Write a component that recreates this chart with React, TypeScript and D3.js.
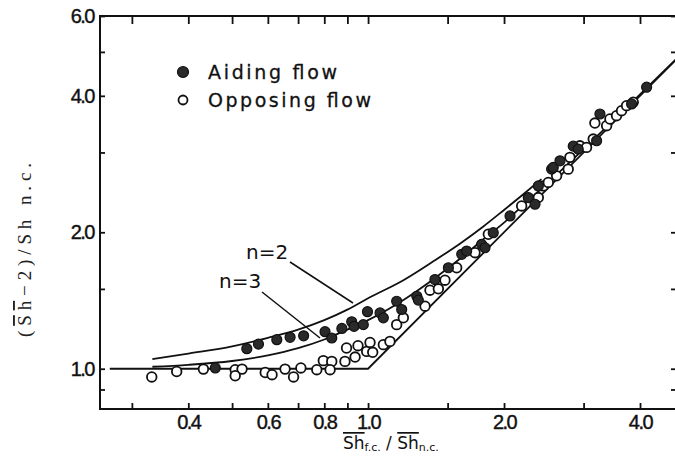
import React, { useEffect, useRef } from 'react';
import * as d3 from 'd3';

// axis ticks (log scales)
const xTicks = [0.3, 0.4, 0.5, 0.6, 0.7, 0.8, 0.9, 1.0, 1.5, 2.0, 3.0, 4.0];
const xLabels = ['0.4', '0.6', '0.8', '1.0', '2.0', '4.0'];
const yTicks = [0.9, 1.0, 1.5, 2.0, 3.0, 4.0, 5.0, 6.0];
const yLabels = ['1.0', '2.0', '4.0', '6.0'];

// aiding flow (filled)
const aidingX = [0.459, 0.539, 0.572, 0.628, 0.672, 0.72, 0.803, 0.831, 0.875, 0.92, 0.931, 0.976, 0.997, 1.063, 1.081, 1.157, 1.187, 1.282, 1.292, 1.406, 1.506, 1.612, 1.653, 1.784, 1.815, 1.893, 2.062, 2.263, 2.342, 2.382, 2.549, 2.57, 2.66, 2.846, 2.919, 3.206, 3.261, 3.832, 4.137];
const aidingY = [1.004, 1.107, 1.133, 1.159, 1.173, 1.182, 1.207, 1.169, 1.227, 1.269, 1.24, 1.251, 1.336, 1.328, 1.295, 1.409, 1.351, 1.445, 1.417, 1.573, 1.67, 1.788, 1.818, 1.881, 1.849, 1.996, 2.173, 2.386, 2.306, 2.531, 2.756, 2.78, 2.875, 3.098, 3.051, 3.184, 3.647, 3.838, 4.179];

// opposing flow (open)
const opposingX = [0.332, 0.377, 0.432, 0.508, 0.526, 0.508, 0.592, 0.613, 0.655, 0.684, 0.71, 0.77, 0.796, 0.831, 0.824, 0.889, 0.896, 0.936, 0.95, 0.993, 1.01, 1.024, 1.081, 1.118, 1.157, 1.197, 1.337, 1.371, 1.431, 1.48, 1.571, 1.725, 1.846, 2.188, 2.382, 2.443, 2.506, 2.615, 2.774, 2.798, 2.944, 3.046, 3.151, 3.178, 3.374, 3.431, 3.549, 3.641, 3.735, 3.864];
const opposingY = [0.959, 0.986, 0.998, 0.995, 0.998, 0.965, 0.981, 0.97, 0.998, 0.959, 1.004, 0.995, 1.042, 1.038, 0.995, 1.038, 1.111, 1.061, 1.124, 1.092, 1.143, 1.087, 1.13, 1.149, 1.251, 1.295, 1.374, 1.49, 1.501, 1.568, 1.67, 1.803, 1.98, 2.286, 2.386, 2.531, 2.576, 2.664, 2.756, 2.926, 3.103, 3.078, 3.211, 3.483, 3.437, 3.556, 3.616, 3.709, 3.805, 3.871];

// correlation curves
const n2X = [0.333, 0.4, 0.5, 0.6, 0.7, 0.8, 0.9, 1.0, 1.2, 1.4, 1.6, 1.8, 2.0, 2.2, 2.42];
const n2Y = [1.05, 1.08, 1.12, 1.17, 1.22, 1.28, 1.35, 1.43, 1.57, 1.73, 1.89, 2.06, 2.24, 2.42, 2.62];
const n3X = [0.333, 0.4, 0.5, 0.6, 0.7, 0.8, 0.9, 1.0, 1.2, 1.4, 1.6, 1.8, 2.0, 2.2, 2.5, 3.0, 3.5, 4.0, 4.8];
const n3Y = [1.01, 1.02, 1.04, 1.07, 1.11, 1.16, 1.22, 1.28, 1.42, 1.58, 1.75, 1.93, 2.1, 2.29, 2.57, 3.05, 3.54, 4.03, 4.81];
const limitX = [0.268, 1.0, 4.8];
const limitY = [1.0, 1.0, 4.8];

const W = 675;
const H = 465;
const sans = 'DejaVu Sans, sans-serif';
const num = 'Liberation Sans, Arial, sans-serif';

export default function App() {
  const svgRef = useRef<SVGSVGElement>(null);

  useEffect(() => {
    const svg = d3.select(svgRef.current);
    svg.selectAll('*').remove();

    const x = d3.scaleLog().domain([0.255, 4.83]).range([100, 677]);
    const y = d3.scaleLog().domain([0.815, 6.0]).range([409, 16]);

    const fmtX = (d: number) => (xLabels.includes(d.toFixed(1)) ? d.toFixed(1) : '');
    const fmtY = (d: number) => (yLabels.includes(d.toFixed(1)) ? d.toFixed(1) : '');

    const styleAxis = (g: any) => {
      g.select('.domain').remove();
      g.selectAll('line').attr('stroke', '#111').attr('stroke-width', 1.8);
      g.selectAll('text')
        .attr('fill', '#111')
        .attr('stroke', '#111')
        .attr('stroke-width', 0.4)
        .style('font-family', num)
        .style('font-size', '20px')
        .style('letter-spacing', '-1.5px');
    };

    svg.append('g')
      .attr('transform', 'translate(0,409)')
      .call(d3.axisBottom(x).tickValues(xTicks).tickFormat(fmtX as any).tickSizeInner(-6).tickSizeOuter(0).tickPadding(6))
      .call(styleAxis);
    svg.append('g')
      .attr('transform', 'translate(0,16)')
      .call(d3.axisTop(x).tickValues(xTicks).tickFormat(() => '').tickSizeInner(-8).tickSizeOuter(0))
      .call(styleAxis);
    svg.append('g')
      .attr('transform', 'translate(100,0)')
      .call(d3.axisLeft(y).tickValues(yTicks).tickFormat(fmtY as any).tickSizeInner(-5).tickSizeOuter(0).tickPadding(6))
      .call(styleAxis);
    svg.append('g')
      .attr('transform', 'translate(677,0)')
      .call(d3.axisRight(y).tickValues(yTicks).tickFormat(() => '').tickSizeInner(-6).tickSizeOuter(0))
      .call(styleAxis);

    svg.append('rect')
      .attr('x', 100).attr('y', 16)
      .attr('width', 577).attr('height', 393)
      .attr('fill', 'none').attr('stroke', '#111').attr('stroke-width', 2);

    const smooth = d3.line<[number, number]>()
      .x((d) => x(d[0]))
      .y((d) => y(d[1]))
      .curve(d3.curveMonotoneX);
    const straight = d3.line<[number, number]>()
      .x((d) => x(d[0]))
      .y((d) => y(d[1]));

    svg.append('path')
      .attr('d', straight(d3.zip(limitX, limitY) as any))
      .attr('fill', 'none').attr('stroke', '#111').attr('stroke-width', 1.8);
    svg.append('path')
      .attr('d', smooth(d3.zip(n3X, n3Y) as any))
      .attr('fill', 'none').attr('stroke', '#111').attr('stroke-width', 1.8);
    svg.append('path')
      .attr('d', smooth(d3.zip(n2X, n2Y) as any))
      .attr('fill', 'none').attr('stroke', '#111').attr('stroke-width', 1.8);

    // pointers for n labels
    const pointers = [
      [[290, 262], [353, 303]],
      [[262, 292], [320, 338]],
    ];
    svg.append('g')
      .selectAll('line')
      .data(pointers)
      .enter()
      .append('line')
      .attr('x1', (d) => d[0][0]).attr('y1', (d) => d[0][1])
      .attr('x2', (d) => d[1][0]).attr('y2', (d) => d[1][1])
      .attr('stroke', '#111').attr('stroke-width', 1.5);

    svg.append('text').attr('x', 246).attr('y', 259).text('n=2')
      .style('font-family', sans).style('font-size', '20px').attr('fill', '#111');
    svg.append('text').attr('x', 219).attr('y', 288).text('n=3')
      .style('font-family', sans).style('font-size', '20px').attr('fill', '#111');

    const opposing = d3.zip(opposingX, opposingY);
    const aiding = d3.zip(aidingX, aidingY);

    svg.append('g')
      .selectAll('circle')
      .data(opposing)
      .enter()
      .append('circle')
      .attr('cx', (d) => x(d[0]))
      .attr('cy', (d) => y(d[1]))
      .attr('r', 4.8)
      .attr('fill', '#fff')
      .attr('stroke', '#111')
      .attr('stroke-width', 1.8);

    svg.append('g')
      .selectAll('circle')
      .data(aiding)
      .enter()
      .append('circle')
      .attr('cx', (d) => x(d[0]))
      .attr('cy', (d) => y(d[1]))
      .attr('r', 5)
      .attr('fill', '#2a2a2a')
      .attr('stroke', '#111')
      .attr('stroke-width', 1.2);

    // legend
    svg.append('circle').attr('cx', 183).attr('cy', 72).attr('r', 5.5)
      .attr('fill', '#2a2a2a').attr('stroke', '#111').attr('stroke-width', 1.2);
    svg.append('circle').attr('cx', 183).attr('cy', 100).attr('r', 4.5)
      .attr('fill', '#fff').attr('stroke', '#111').attr('stroke-width', 1.8);
    svg.append('text').attr('x', 208).attr('y', 79).text('Aiding flow')
      .attr('textLength', 129).attr('lengthAdjust', 'spacing')
      .attr('stroke', '#111').attr('stroke-width', 0.3)
      .style('font-family', sans).style('font-size', '19px').attr('fill', '#111');
    svg.append('text').attr('x', 208).attr('y', 107).text('Opposing flow')
      .attr('textLength', 163).attr('lengthAdjust', 'spacing')
      .attr('stroke', '#111').attr('stroke-width', 0.3)
      .style('font-family', sans).style('font-size', '19px').attr('fill', '#111');

    // x axis title
    const xt = svg.append('text').attr('x', 343).attr('y', 449)
      .style('font-family', sans).style('font-size', '17px').attr('fill', '#111');
    xt.append('tspan').text('Sh').style('text-decoration', 'overline');
    xt.append('tspan').text('f.c.').style('font-size', '11px').attr('dy', 2);
    xt.append('tspan').text(' / ').attr('dy', -2);
    xt.append('tspan').text('Sh').style('text-decoration', 'overline');
    xt.append('tspan').text('n.c.').style('font-size', '11px').attr('dy', 2);

    // y axis title
    const yt = svg.append('text')
      .attr('transform', 'translate(31,337) rotate(-90)')
      .attr('textLength', 174).attr('lengthAdjust', 'spacing')
      .style('font-family', 'Liberation Serif, serif').style('font-size', '19px').attr('fill', '#222');
    yt.append('tspan').text('(');
    yt.append('tspan').text('Sh').style('text-decoration', 'overline');
    yt.append('tspan').text('−2)/Sh n.c.');
  }, []);

  return (
    <svg
      ref={svgRef}
      width={W}
      height={H}
      style={{ position: 'absolute', left: 0, top: 0, background: '#fff' }}
    />
  );
}
